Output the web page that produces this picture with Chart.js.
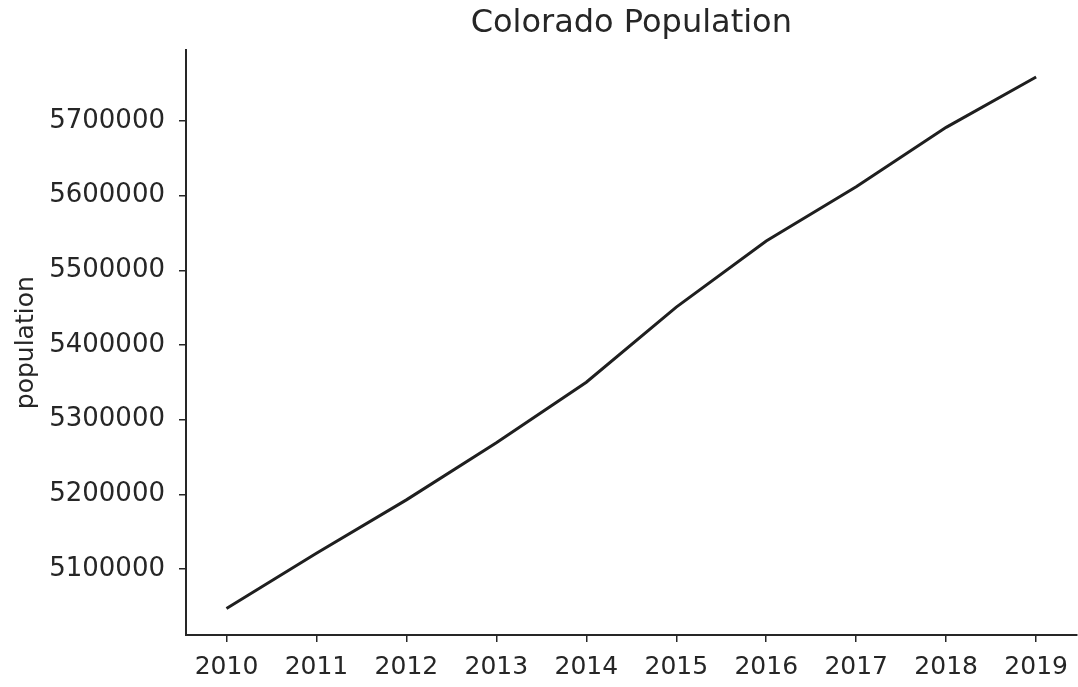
<!DOCTYPE html>
<html>
<head>
<meta charset="utf-8">
<script src="https://cdn.jsdelivr.net/npm/chart.js@4"></script>
<style>
  html, body { margin: 0; padding: 0; background: #fff; }
  #wrap { width: 1078px; height: 687px; position: relative; }
</style>
</head>
<body>
<div id="wrap"><canvas id="c" width="1078" height="687"></canvas></div>
<script>
const years = [2010, 2011, 2012, 2013, 2014, 2015, 2016, 2017, 2018, 2019];
const population = [5047349, 5121108, 5192647, 5269035, 5350101, 5450623, 5539215, 5611885, 5691287, 5758736];
const yTicks = [5100000, 5200000, 5300000, 5400000, 5500000, 5600000, 5700000];
const chartTitle = 'Colorado Population';
const yLabel = 'population';

const textColor = '#262626';
const axisColor = '#262626';
const font = 'DejaVu Sans';

const xMin = years[0] - (years[years.length-1] - years[0]) * 0.05;
const xMax = years[years.length-1] + (years[years.length-1] - years[0]) * 0.05;
const pMin = Math.min(...population), pMax = Math.max(...population);
const yMin = pMin - (pMax - pMin) * 0.05;
const yMax = pMax + (pMax - pMin) * 0.05;

new Chart(document.getElementById('c'), {
  type: 'line',
  data: {
    datasets: [{
      data: years.map((y, i) => ({ x: y, y: population[i] })),
      borderColor: '#1f1f1f',
      borderWidth: 3,
      pointRadius: 0,
      fill: false,
      tension: 0
    }]
  },
  options: {
    responsive: false,
    animation: false,
    devicePixelRatio: 1,
    layout: { padding: { left: 0, right: 0, top: 0, bottom: 0 } },
    plugins: {
      legend: { display: false },
      tooltip: { enabled: false },
      title: {
        display: true,
        fullSize: false,
        text: chartTitle,
        color: textColor,
        font: { family: font, size: 32, weight: 'normal', lineHeight: 1.2 },
        padding: { top: 4, bottom: 8 }
      }
    },
    scales: {
      x: {
        type: 'linear',
        min: xMin,
        max: xMax,
        afterBuildTicks: s => { s.ticks = years.map(v => ({ value: v })); },
        afterFit: s => { s.height = 52; },
        grid: { drawOnChartArea: false, drawTicks: true, tickLength: 7, color: axisColor, lineWidth: 1.5 },
        border: { display: true, color: axisColor, width: 2 },
        ticks: {
          color: textColor,
          font: { family: font, size: 25 },
          padding: 10,
          maxRotation: 0,
          autoSkip: false,
          callback: v => String(v)
        }
      },
      y: {
        type: 'linear',
        min: yMin,
        max: yMax,
        afterBuildTicks: s => { s.ticks = yTicks.map(v => ({ value: v })); },
        afterFit: s => { s.width = 186; },
        grid: { drawOnChartArea: false, drawTicks: true, tickLength: 7, color: axisColor, lineWidth: 1.5 },
        border: { display: true, color: axisColor, width: 2 },
        title: {
          display: true,
          text: yLabel,
          color: textColor,
          font: { family: font, size: 25 },
          padding: { top: 11, bottom: 0 }
        },
        ticks: {
          color: textColor,
          font: { family: font, size: 26 },
          padding: 14,
          autoSkip: false,
          callback: v => String(v)
        }
      }
    }
  }
});
</script>
</body>
</html>
